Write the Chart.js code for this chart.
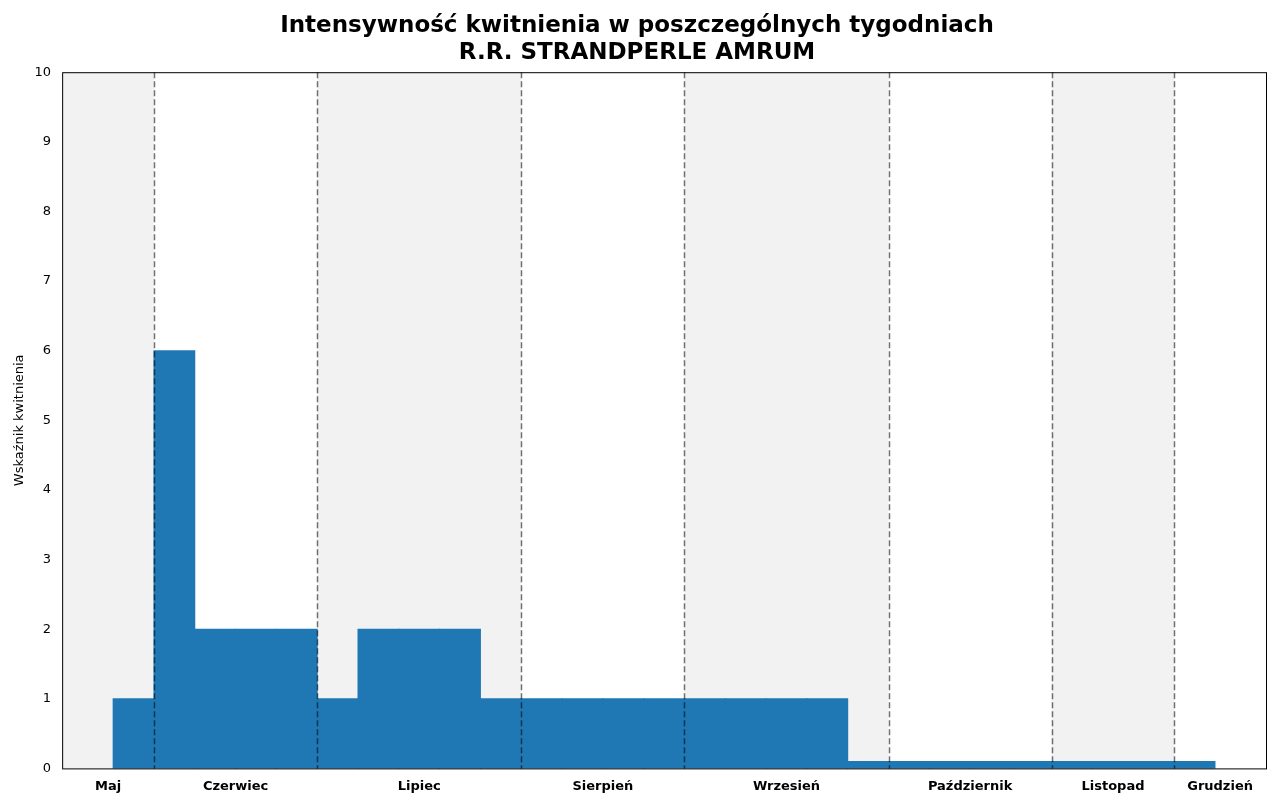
<!DOCTYPE html>
<html><head><meta charset="utf-8">
<script src="https://cdn.jsdelivr.net/npm/chart.js@4"></script>
<style>body{margin:0;background:#fff}#w{width:1280px;height:800px}</style>
</head><body><div id="w"><canvas id="c"></canvas></div>
<script>
const weekValues=[1,6,2,2,2,1,2,2,2,1,1,1,1,1,1,1,1,1,0.1,0.1,0.1,0.1,0.1,0.1,0.1,0.1,0.1];
const monthNames=["Maj","Czerwiec","Lipiec","Sierpień","Wrzesień","Październik","Listopad","Grudzień"];
const monthBounds=[-1.25,1,5,10,14,19,23,26,28.25];
const yTicks=[0,1,2,3,4,5,6,7,8,9,10];
const data=weekValues.map((v,i)=>({x:i+0.5,y:v}));
const mids=monthNames.map((n,i)=>(monthBounds[i]+monthBounds[i+1])/2);
const bg={id:'bg',beforeDatasetsDraw(ch){const {ctx,chartArea:a,scales:{x}}=ch;ctx.save();
 for(let i=0;i<monthNames.length;i+=2){const l=x.getPixelForValue(monthBounds[i]),r=x.getPixelForValue(monthBounds[i+1]);ctx.fillStyle='#f2f2f2';ctx.fillRect(l,a.top,r-l,a.bottom-a.top);}
 ctx.restore();},
 afterDatasetsDraw(ch){const {ctx,chartArea:a,scales:{x}}=ch;ctx.save();ctx.strokeStyle='rgba(0,0,0,0.55)';ctx.lineWidth=1.5;ctx.setLineDash([6,3]);
 for(let i=1;i<monthBounds.length-1;i++){const p=Math.round(x.getPixelForValue(monthBounds[i]))+0.5;ctx.beginPath();ctx.moveTo(p,a.top);ctx.lineTo(p,a.bottom);ctx.stroke();}
 ctx.setLineDash([]);ctx.strokeStyle='#000';ctx.lineWidth=1;ctx.strokeRect(a.left+0.5,a.top+0.5,a.right-a.left,a.bottom-a.top);ctx.restore();}};
new Chart(document.getElementById('c'),{type:'bar',
 data:{datasets:[{data,backgroundColor:'#1f77b4',barPercentage:1,categoryPercentage:1,grouped:false,borderWidth:0,inflateAmount:0.5}]},
 options:{responsive:true,maintainAspectRatio:false,animation:false,
 layout:{padding:{left:8,right:14,top:0,bottom:4}},
 plugins:{legend:{display:false},tooltip:{enabled:false},
  title:{display:true,text:['Intensywność kwitnienia w poszczególnych tygodniach','R.R. STRANDPERLE AMRUM'],color:'#000',font:{family:'DejaVu Sans',size:23,weight:'bold'},padding:{top:12,bottom:5},lineHeight:1.2}},
 scales:{x:{type:'linear',min:-1.25,max:28.25,offset:false,bounds:'data',grid:{display:false},border:{display:false},
   afterBuildTicks(s){s.ticks=mids.map(v=>({value:v}));},
   ticks:{autoSkip:false,maxRotation:0,padding:2,color:'#000',font:{family:'DejaVu Sans',size:13,weight:'bold'},callback:(v,i)=>monthNames[i]}},
  y:{min:0,max:10,grid:{display:false},border:{display:false},
   afterBuildTicks(s){s.ticks=yTicks.map(v=>({value:v}));},
   ticks:{color:'#000',font:{family:'DejaVu Sans',size:13}},
   title:{display:true,text:'Wskaźnik kwitnienia',color:'#000',font:{family:'DejaVu Sans',size:13}}}}},
 plugins:[bg]});
</script></body></html>
